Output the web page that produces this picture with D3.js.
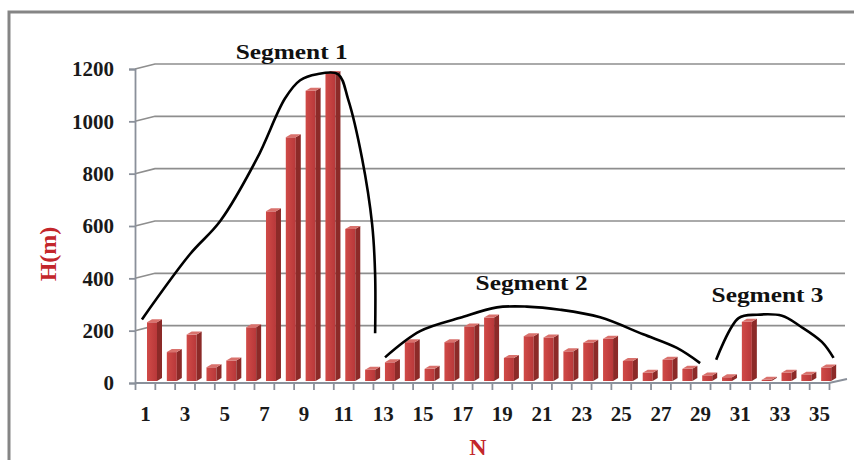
<!DOCTYPE html>
<html>
<head>
<meta charset="utf-8">
<script src="https://cdn.jsdelivr.net/npm/d3@7"></script>
<style>
  body { margin: 0; background: #fff; }
  svg text { font-family: "Liberation Serif", "Times New Roman", Times, serif; font-weight: bold; }
</style>
</head>
<body>
<script>
// donnees
const categories = [1,2,3,4,5,6,7,8,9,10,11,12,13,14,15,16,17,18,19,20,21,22,23,24,25,26,27,28,29,30,31,32,33,34,35];
const heights = [232,118,185,60,86,213,656,939,1117,1181,589,51,79,156,54,156,216,250,96,179,174,121,154,169,84,39,89,54,29,22,234,12,39,32,59];
const yTicks = [0,200,400,600,800,1000,1200];
const xLabels = [1,3,5,7,9,11,13,15,17,19,21,23,25,27,29,31,33,35];

// enveloppes dessinees a la main : [position N, H]
const seg1 = [[0.85,243],[3.27,492],[4.79,618],[6.66,859],[8.07,1088],[8.83,1157],[9.68,1180],[10.74,1180],[11.25,1084],[11.95,859],[12.46,606],[12.61,415],[12.61,190]];
const seg2 = [[13.11,98],[14.88,198],[16.9,249],[18.75,289],[20.26,292],[21.94,280],[23.96,251],[26.13,186],[27.83,134],[29.0,76]];
const seg3 = [[29.81,89],[30.94,248],[31.87,261],[33.13,257],[34.05,217],[35.14,157],[35.73,96]];
const segLabels = [
  { text: "Segment 1", pos: 8.4, h: 1240 },
  { text: "Segment 2", pos: 20.5, h: 355 },
  { text: "Segment 3", pos: 32.4, h: 310 }
];

const serif = '"Liberation Serif", "Times New Roman", Times, serif';
const W = 854, H = 460;
const svg = d3.select("body").append("svg")
  .attr("width", W).attr("height", H);

svg.append("rect").attr("width", W).attr("height", H).attr("fill", "#fff");

// cadre
svg.append("path")
  .attr("d", "M9,460V12H854")
  .attr("fill", "none")
  .attr("stroke", "#858585")
  .attr("stroke-width", 3);

const plotLeft = 135, plotRight = 829, plotBottom = 383, plotTop = 69;
const depthX = 20, depthY = -5;

const x = d3.scaleBand().domain(categories).range([plotLeft, plotRight]).padding(0);
const xLin = d3.scaleLinear().domain([0.5, 35.5]).range([plotLeft, plotRight]);
const y = d3.scaleLinear().domain([0, 1200]).range([plotBottom, plotTop]);

// quadrillage (mur du fond en 3D)
svg.append("g").selectAll("path")
  .data(yTicks.filter(d => d > 0))
  .join("path")
  .attr("d", d => `M${plotLeft},${y(d)}L${plotLeft + depthX},${y(d) + depthY}H${plotRight + 16}`)
  .attr("fill", "none")
  .attr("stroke", "#8e8e8e")
  .attr("stroke-width", 1.6);

// axe y
const yAxis = svg.append("g")
  .attr("transform", `translate(${plotLeft},0)`)
  .call(d3.axisLeft(y).tickValues(yTicks).tickSize(6).tickPadding(15).tickFormat(d3.format("d")));
yAxis.attr("font-family", serif);
yAxis.select(".domain").attr("stroke", "#8a909a").attr("stroke-width", 1.8);
yAxis.selectAll(".tick line").attr("stroke", "#8a909a").attr("stroke-width", 1.8);
yAxis.selectAll(".tick text")
  .attr("font-size", 21).attr("fill", "#1a1a1a")
  .style("font-family", serif).style("font-weight", "bold");

// sol
svg.append("path")
  .attr("d", `M${plotLeft},${plotBottom}H${plotRight}L${plotRight + 18},${plotBottom - 4}`)
  .attr("fill", "none")
  .attr("stroke", "#8a909a")
  .attr("stroke-width", 2);

// barres 3D
const defs = svg.append("defs");
const grad = defs.append("linearGradient").attr("id", "front").attr("x1", 0).attr("x2", 1);
grad.append("stop").attr("offset", 0).attr("stop-color", "#d04a47");
grad.append("stop").attr("offset", 1).attr("stop-color", "#b8383a");

const faceW = 10, sideW = 5, sideH = 3, off = 12, base = plotBottom - 2;
const bars = svg.append("g").selectAll("g")
  .data(categories.map((c, i) => ({ c, v: heights[i] })))
  .join("g");

bars.append("rect")
  .attr("x", d => x(d.c) + off)
  .attr("y", d => y(d.v))
  .attr("width", faceW)
  .attr("height", d => base - y(d.v))
  .attr("fill", "url(#front)");

bars.append("path")
  .attr("d", d => {
    const x0 = x(d.c) + off + faceW;
    return `M${x0},${y(d.v)}L${x0 + sideW},${y(d.v) - sideH}L${x0 + sideW},${base - sideH}L${x0},${base}Z`;
  })
  .attr("fill", "#8c2a28");

bars.append("path")
  .attr("d", d => {
    const x0 = x(d.c) + off;
    return `M${x0},${y(d.v)}L${x0 + faceW},${y(d.v)}L${x0 + faceW + sideW},${y(d.v) - sideH}L${x0 + sideW},${y(d.v) - sideH}Z`;
  })
  .attr("fill", "#d9716c");

// axe x : graduations aux limites des categories
const bounds = categories.map(c => c - 0.5).concat([35.5]);
const xTicks = svg.append("g")
  .attr("transform", `translate(0,${plotBottom})`)
  .call(d3.axisBottom(xLin).tickValues(bounds).tickSize(7).tickFormat(""));
xTicks.select(".domain").remove();
xTicks.selectAll(".tick line").attr("stroke", "#8a909a").attr("stroke-width", 1.8);

const xAxis = svg.append("g")
  .attr("transform", `translate(0,${plotBottom})`)
  .call(d3.axisBottom(xLin).tickValues(xLabels).tickSize(0).tickPadding(23));
xAxis.attr("font-family", serif);
xAxis.select(".domain").remove();
xAxis.selectAll(".tick text")
  .attr("font-size", 21).attr("fill", "#1a1a1a")
  .style("font-family", serif).style("font-weight", "bold");

// enveloppes
const line = d3.line()
  .x(d => xLin(d[0]))
  .y(d => y(d[1]))
  .curve(d3.curveCatmullRom.alpha(0.5));

svg.append("g").selectAll("path")
  .data([seg1, seg2, seg3])
  .join("path")
  .attr("d", line)
  .attr("fill", "none")
  .attr("stroke", "#000")
  .attr("stroke-width", 2.6);

svg.append("g").selectAll("text")
  .data(segLabels)
  .join("text")
  .attr("x", d => xLin(d.pos))
  .attr("y", d => y(d.h))
  .attr("text-anchor", "middle")
  .attr("font-size", 22)
  .attr("textLength", 112)
  .attr("lengthAdjust", "spacingAndGlyphs")
  .attr("fill", "#111")
  .style("font-family", serif)
  .text(d => d.text);

// titres des axes
svg.append("text")
  .attr("transform", "translate(56,254) rotate(-90)")
  .attr("text-anchor", "middle")
  .attr("font-size", 24)
  .attr("fill", "#c3262b")
  .style("font-family", serif)
  .text("H(m)");

svg.append("text")
  .attr("x", 478)
  .attr("y", 455)
  .attr("text-anchor", "middle")
  .attr("font-size", 24)
  .attr("fill", "#c3262b")
  .style("font-family", serif)
  .text("N");
</script>
</body>
</html>
